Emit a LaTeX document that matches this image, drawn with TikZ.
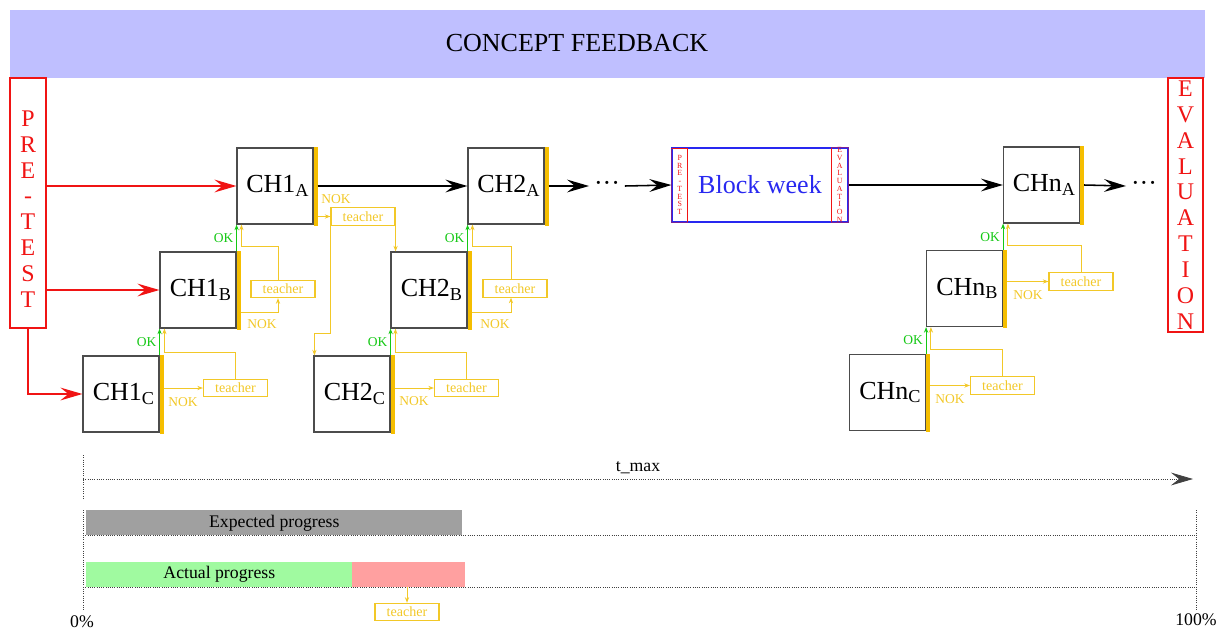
\documentclass[tikz,border=0pt]{standalone}
\usepackage{fontspec}
\setmainfont{Liberation Serif}
\usetikzlibrary{arrows.meta}
\usetikzlibrary{calc}

\definecolor{bannerblue}{RGB}{191,191,255}
\definecolor{fbyellow}{RGB}{242,200,40}
\definecolor{baryellow}{RGB}{245,190,0}
\definecolor{okgreen}{RGB}{20,200,20}
\definecolor{pretestred}{RGB}{240,20,20}
\definecolor{blockblue}{RGB}{40,40,240}
\definecolor{expgrey}{RGB}{160,160,160}
\definecolor{actgreen}{RGB}{160,250,160}
\definecolor{latered}{RGB}{255,160,160}

\begin{document}
\begin{tikzpicture}[x=0.025cm,y=-0.025cm,
		banner/.style={fill=bannerblue,minimum width=29.875cm,minimum height=1.7cm,inner sep=0pt},
		bigfont/.style={font=\fontsize{18.5}{22}\selectfont},
		sidebox/.style={draw=pretestred,line width=0.8pt,text=pretestred,align=center,inner sep=0pt,font=\fontsize{17}{18.4}\selectfont},
		sidetext/.style={text=pretestred,align=center,inner sep=0pt,font=\fontsize{17}{18.4}\selectfont},
		chbox/.style={draw=black!70,line width=0.8pt,minimum size=1.9cm,inner sep=0pt,bigfont},
		blockbox/.style={draw=blockblue,line width=0.8pt,text=blockblue,minimum width=4.4cm,minimum height=1.85cm,inner sep=0pt,bigfont},
		stripbox/.style={draw=pretestred,line width=0.6pt,text=pretestred,minimum height=1.85cm,inner sep=0pt,align=center,font=\fontsize{5.6}{5.5}\selectfont},
		teacherbox/.style={draw=fbyellow,line width=0.8pt,text=fbyellow,minimum width=1.6cm,minimum height=0.43cm,inner sep=0pt,font=\fontsize{10}{12}\selectfont},
		noktext/.style={text=fbyellow,font=\fontsize{9.6}{11}\selectfont,inner sep=0pt},
		oktext/.style={text=okgreen,font=\fontsize{9.6}{11}\selectfont,inner sep=2pt},
		redarrow/.style={draw=pretestred,line width=1.1pt,-{Stealth[length=0.55cm,width=0.32cm,inset=0.2cm]}},
		blkarrow/.style={draw=black,line width=1.1pt,-{Stealth[length=0.55cm,width=0.32cm,inset=0.2cm]}},
		fbarrow/.style={draw=fbyellow,line width=0.7pt,-{Stealth[length=4pt,width=3pt]}},
		okarrow/.style={draw=okgreen,line width=0.7pt,-{Stealth[length=4pt,width=3pt]}},
		dotline/.style={black!75,densely dotted,line width=0.6pt},
		barbox/.style={anchor=north west,inner sep=0pt,minimum height=0.61cm,font=\fontsize{12.6}{14}\selectfont}]
		\useasboundingbox (0,0) rectangle (1218,631);
		
		% header
		\node[banner] (banner) at (607.5,44) {};
		\node[bigfont] (title) at (577,43) {CONCEPT FEEDBACK};
		
		% pre-test and evaluation columns
		\node[sidebox,minimum width=0.9cm,minimum height=6.25cm] (pretest) at (28,203) {};
		\node[sidetext] (pretesttext) at (28,209) {P\\R\\E\\-\\T\\E\\S\\T};
		\node[sidebox,minimum width=0.875cm,minimum height=6.35cm] (evaluation) at (1185.5,205) {E\\V\\A\\L\\U\\A\\T\\I\\O\\N};
		
		% chapters, three levels each
		\node[chbox] (ch1a) at (275,186) {\hspace{4pt}CH1\textsubscript{A}};
		\node[chbox] (ch1b) at (198,290) {\hspace{4pt}CH1\textsubscript{B}};
		\node[chbox] (ch1c) at (121,394) {\hspace{4pt}CH1\textsubscript{C}};
		\node[chbox] (ch2a) at (506,186) {\hspace{4pt}CH2\textsubscript{A}};
		\node[chbox] (ch2b) at (429,290) {\hspace{4pt}CH2\textsubscript{B}};
		\node[chbox] (ch2c) at (352,394) {\hspace{4pt}CH2\textsubscript{C}};
		\node[chbox] (chna) at (1041.5,185) {\hspace{4pt}CHn\textsubscript{A}};
		\node[chbox] (chnb) at (964.5,288.5) {\hspace{4pt}CHn\textsubscript{B}};
		\node[chbox] (chnc) at (887.5,392.5) {\hspace{4pt}CHn\textsubscript{C}};
		\foreach \b in {ch1a,ch1b,ch1c,ch2a,ch2b,ch2c,chna,chnb,chnc}{
			\fill[baryellow] (\b.north east) rectangle ($(\b.south east)+(4,1)$);
			\coordinate (\b-bar) at ($(\b.east)+(4,0)$);
		}
		
		% block week
		\node[blockbox] (block) at (760,185) {Block week};
		\node[stripbox,anchor=west,minimum width=0.4cm] (bwpre) at (block.west) {P\\R\\E\\-\\T\\E\\S\\T};
		\node[stripbox,anchor=east,minimum width=0.425cm] (bweval) at (block.east) {E\\V\\A\\L\\U\\A\\T\\I\\O\\N};
		\draw[blockblue,line width=0.8pt,opacity=0.6] (block.north west) rectangle (block.south east);
		\node[bigfont] (dots1) at (607,186) {\textperiodcentered\textperiodcentered\textperiodcentered};
		\node[bigfont] (dots2) at (1144,186) {\textperiodcentered\textperiodcentered\textperiodcentered};
		
		% teachers
		\node[teacherbox] (t1a) at (363,216.5) {teacher};
		\node[teacherbox] (t1b) at (283,289) {teacher};
		\node[teacherbox] (t1c) at (235.5,388) {teacher};
		\node[teacherbox] (t2b) at (515,288.5) {teacher};
		\node[teacherbox] (t2c) at (466.5,388) {teacher};
		\node[teacherbox] (tnb) at (1081,281.5) {teacher};
		\node[teacherbox] (tnc) at (1002.5,385.5) {teacher};
		
		% entry arrows
		\draw[redarrow] (pretest.east |- ch1a.west) -- (ch1a.west);
		\draw[redarrow] (pretest.east |- ch1b.west) -- (ch1b.west);
		\draw[redarrow] (pretest.south) |- (ch1c.west);
		
		% main line
		\draw[blkarrow] (ch1a-bar) -- (ch2a.west);
		\draw[blkarrow] (ch2a-bar) -- (dots1.west);
		\draw[blkarrow] (dots1.east) -- (block.west);
		\draw[blkarrow] (block.east) -- (chna.west);
		\draw[blkarrow] (chna-bar) -- (dots2.west);
		
		% OK: one level up
		\foreach \lo/\up in {ch1c/ch1b,ch1b/ch1a,ch2c/ch2b,ch2b/ch2a,chnc/chnb,chnb/chna}
			\draw[okarrow] (\lo.north east) -- (\lo.north east |- \up.south) node[midway,left,oktext] {OK};
		
		% NOK: to the teacher
		\draw[fbarrow] (ch1a-bar |- t1a.west) -- (t1a.west);
		\draw[fbarrow] ($(ch1b-bar)+(0,22)$) -| ($(t1b.south)+(-5,0)$);
		\draw[fbarrow] ($(ch2b-bar)+(0,22)$) -| ($(t2b.south)+(-4,0)$);
		\foreach \lo/\t in {ch1c/t1c,ch2c/t2c,chnb/tnb,chnc/tnc}
			\draw[fbarrow] (\lo-bar |- \t.west) -- (\t.west);
		\node[noktext] (nok1a) at (336,199) {NOK};
		\node[noktext] (nok1b) at (262,324) {NOK};
		\node[noktext] (nok1c) at (183,402) {NOK};
		\node[noktext] (nok2b) at (495,324) {NOK};
		\node[noktext] (nok2c) at (414,401) {NOK};
		\node[noktext] (noknb) at (1028,295) {NOK};
		\node[noktext] (noknc) at (950,399) {NOK};
		
		% teacher sends back up
		\foreach \t/\up/\h/\dx in {t1b/ch1a/33/-5,t1c/ch1b/26/0,t2b/ch2a/33/-4,t2c/ch2b/26/0,tnb/chna/27/0,tnc/chnb/27/0}
			\draw[fbarrow] ($(\t.north)+(\dx,0)$) -- ++(0,-\h) -| ($(\up.south west)+(5,0)$);
		\draw[fbarrow] (t1a.south east) -- (t1a.south east |- ch2b.north);
		\draw[fbarrow] (t1a.south west) -- ++(0,108) -| ($(ch2c.north west)+(1,0)$);
		
		% time line
		\coordinate (t0top) at (83,455);
		\coordinate (t0bot) at (83,498);
		\coordinate (tstart) at (83,479);
		\coordinate (tend) at (1193,479);
		\draw[dotline] (t0top) -- (t0bot);
		\draw[dotline,-{Stealth[length=0.55cm,width=0.32cm,inset=0.2cm]}] (tstart) -- node[midway,above,black,font=\fontsize{12.6}{14}\selectfont] (tmax) {t\_max} (tend);
		
		% progress bars
		\coordinate (p0top) at (83,510);
		\coordinate (p0bot) at (83,610);
		\coordinate (p1top) at (1196,510);
		\coordinate (p1bot) at (1196,610);
		\draw[dotline] (p0top) -- (p0bot);
		\draw[dotline] (p1top) -- (p1bot);
		\node[barbox,fill=expgrey,minimum width=9.4cm,minimum height=0.625cm] (expected) at (86,510) {Expected progress};
		\node[barbox,fill=actgreen,minimum width=6.65cm] (actual) at (86,562) {Actual progress\hspace{0.5cm}};
		\node[barbox,fill=latered,minimum width=2.825cm] (late) at (352,562) {};
		\draw[dotline] (p0top |- expected.south) -- (p1top |- expected.south);
		\draw[dotline] (p0top |- actual.south) -- (p1top |- actual.south);
		\node[teacherbox] (tbar) at (407,612) {teacher};
		\draw[fbarrow] (tbar.north |- late.south) -- (tbar.north);
		\node[font=\fontsize{12.6}{14}\selectfont] (zero) at (82,622) {0\%};
		\node[font=\fontsize{12.6}{14}\selectfont] (full) at (1196,620) {100\%};
	\end{tikzpicture}
\end{document}
